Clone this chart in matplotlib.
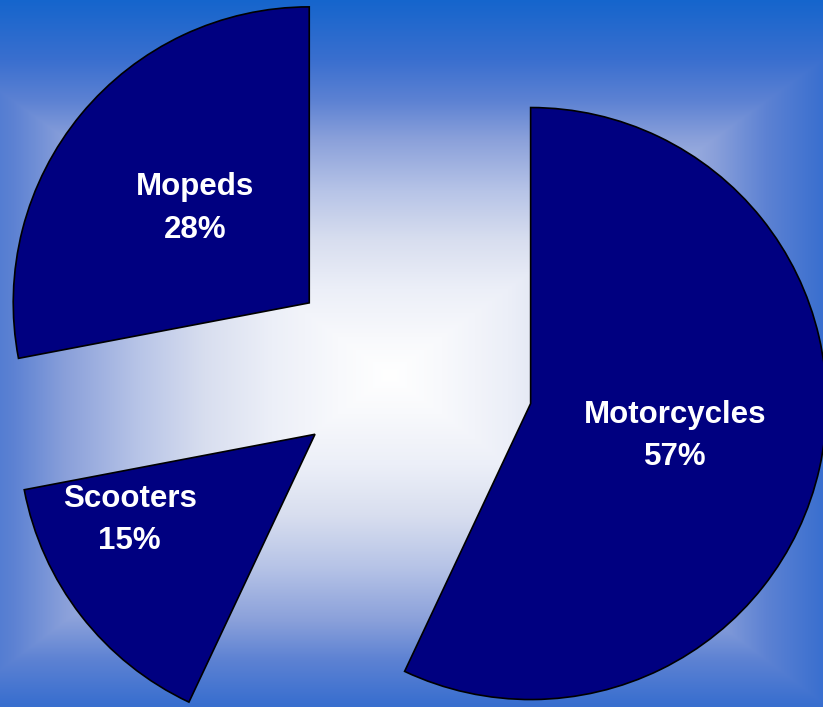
import numpy as np
import matplotlib
matplotlib.use("Agg")
import matplotlib.pyplot as plt
from matplotlib.colors import to_rgb

# vehicle share, drawn clockwise from 12 o'clock
vehicles = ["Motorcycles", "Scooters", "Mopeds"]
shares = [57, 15, 28]

W, H = 823, 707

# background: rectangular "from centre" gradient, white middle to blue edges
ramp_pos = [0.0, 0.10, 0.23, 0.36, 0.49, 0.63, 0.73, 0.84, 1.0]
ramp_col = ["#ffffff", "#f8f9fc", "#eceff8", "#d8deef", "#b7c4e7",
            "#8aa0da", "#5d82d3", "#3a6fcf", "#1565cc"]


def background(w, h, cx=390, cy=375):
    xx, yy = np.meshgrid(np.arange(w) + 0.5, np.arange(h) + 0.5)
    tx = np.abs(xx - cx) / 515.0
    ty = np.where(yy < cy, (cy - yy) / 375.0, (yy - cy) / 390.0)
    t = np.clip(np.maximum(tx, ty), 0, 1)
    rgb = np.array([to_rgb(c) for c in ramp_col])
    img = np.stack([np.interp(t, ramp_pos, rgb[:, k]) for k in range(3)], axis=-1)
    return img


fig = plt.figure(figsize=(W / 100, H / 100), dpi=100)
ax = fig.add_axes([0, 0, 1, 1])
ax.imshow(background(W, H), extent=(0, W, 0, H), origin="upper", zorder=0)

wedges, _ = ax.pie(
    shares,
    explode=[140, 100, 110],
    radius=296,
    center=(394, H - 373),
    startangle=90,
    counterclock=False,
    colors=["#000080"] * len(shares),
    wedgeprops=dict(edgecolor="black", linewidth=1.2, zorder=2),
)

# labels sit inside each wedge; the small slice gets nudged toward its left edge
label_dist = [0.5, 0.69, 0.5]
label_turn = [0, -13, 0]
for w, name, pct, d, turn in zip(wedges, vehicles, shares, label_dist, label_turn):
    mid = np.deg2rad((w.theta1 + w.theta2) / 2 + turn)
    x = w.center[0] + d * w.r * np.cos(mid)
    y = w.center[1] + d * w.r * np.sin(mid)
    ax.text(x, y, f"{name}\n{pct}%", ha="center", va="center",
            color="white", fontsize=22.5, fontweight="bold",
            family="Liberation Sans", linespacing=1.55, zorder=3)

ax.set_xlim(0, W)
ax.set_ylim(0, H)
ax.set_aspect("equal")
ax.axis("off")

fig.savefig("out.png", dpi=100)
